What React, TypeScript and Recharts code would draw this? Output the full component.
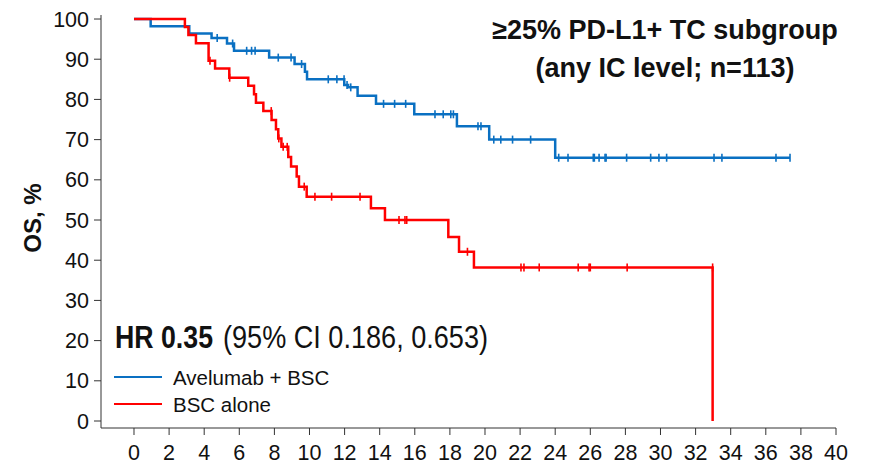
import React from 'react';
import { ComposedChart, Line, Scatter, XAxis, YAxis } from 'recharts';

// Kaplan-Meier steps: [month, OS %]
const blueSteps: [number, number][] = [
  [0, 100], [0.95, 98.2], [3.15, 96.4], [4.42, 95.3], [5.3, 93.9], [5.7, 92.1],
  [7.7, 90.4], [9.15, 88.8], [9.74, 86.9], [9.86, 85.0], [11.98, 83.6], [12.2, 83.0],
  [12.74, 80.9], [13.79, 78.9], [15.97, 76.3], [18.4, 73.3], [20.24, 70.0],
  [24.0, 65.5], [37.38, 65.5],
];
const blueCensored = [
  4.74, 5.62, 6.42, 6.7, 6.9, 8.22, 8.95, 9.55, 11.07, 11.56, 11.97, 12.14, 12.35,
  14.22, 14.85, 15.48, 17.15, 17.62, 18.05, 18.2, 19.6, 19.77, 20.5, 20.9, 21.57,
  22.6, 24.2, 24.73, 26.17, 26.23, 26.5, 26.84, 26.9, 28.07, 29.44, 29.91, 30.35,
  33.05, 33.5, 36.58, 37.38,
];

const redSteps: [number, number][] = [
  [0, 100], [2.9, 98.0], [3.1, 96.0], [3.53, 94.0], [4.25, 89.6], [4.62, 87.7],
  [5.43, 85.4], [6.51, 83.4], [6.84, 81.3], [6.95, 79.2], [7.37, 77.1], [7.84, 74.9],
  [8.09, 72.6], [8.22, 70.3], [8.4, 68.2], [8.79, 65.7], [8.95, 63.3], [9.27, 60.8],
  [9.4, 58.3], [9.84, 55.8], [13.5, 52.9], [14.3, 50.0], [17.91, 45.8], [18.52, 42.1],
  [19.37, 38.2], [32.97, 38.2], [32.97, 0],
];
const redCensored = [
  4.33, 5.45, 7.82, 8.25, 8.5, 8.73, 9.7, 10.31, 11.26, 12.88, 15.1, 15.44, 15.54,
  19.0, 22.05, 22.22, 23.09, 25.31, 25.93, 26.0, 28.1, 32.97,
];

const xTicks = [0, 2, 4, 6, 8, 10, 12, 14, 16, 18, 20, 22, 24, 26, 28, 30, 32, 34, 36, 38, 40];
const yTicks = [0, 10, 20, 30, 40, 50, 60, 70, 80, 90, 100];

const BLUE = '#0a70c2';
const RED = '#ff0000';
const FONT = '"Liberation Sans", Arial, sans-serif';

const toRows = (steps: [number, number][]) => steps.map(([t, s]) => ({ t, s }));

// survival level just before time t
const levelAt = (steps: [number, number][], t: number) => {
  let s = 100;
  for (const [time, v] of steps) {
    if (time < t) s = v;
  }
  return s;
};

const censorRows = (steps: [number, number][], times: number[]) =>
  times.map((t) => ({ t, s: levelAt(steps, t) }));

const tickMark = (color: string) => (props: any) => {
  const { cx, cy } = props;
  return <line x1={cx} x2={cx} y1={cy - 4} y2={cy + 4} stroke={color} strokeWidth={1.6} />;
};

export default function App() {
  const tickStyle = { fontSize: 21.5, fill: '#111', fontFamily: FONT };
  return (
    <div style={{ position: 'absolute', left: 0, top: 0, width: 872, height: 466, background: '#fff' }}>
      <ComposedChart width={872} height={466} margin={{ top: 15, right: 36, left: 0, bottom: 0 }}>
        <XAxis
          type="number"
          dataKey="t"
          domain={[-1.88, 40]}
          ticks={xTicks}
          allowDataOverflow
          height={38}
          tickSize={7}
          tickMargin={10}
          stroke="#333"
          tick={tickStyle}
          interval={0}
        />
        <YAxis
          type="number"
          domain={[-1.74, 101]}
          ticks={yTicks}
          allowDataOverflow
          width={101}
          tickSize={7}
          tickMargin={5}
          stroke="#333"
          tick={tickStyle}
          interval={0}
        />
        <Line
          data={toRows(blueSteps)}
          dataKey="s"
          type="stepAfter"
          stroke={BLUE}
          strokeWidth={2.5}
          dot={false}
          isAnimationActive={false}
        />
        <Line
          data={toRows(redSteps)}
          dataKey="s"
          type="stepAfter"
          stroke={RED}
          strokeWidth={2.5}
          dot={false}
          isAnimationActive={false}
        />
        <Scatter
          data={censorRows(blueSteps, blueCensored)}
          dataKey="s"
          shape={tickMark(BLUE)}
          isAnimationActive={false}
        />
        <Scatter
          data={censorRows(redSteps, redCensored)}
          dataKey="s"
          shape={tickMark(RED)}
          isAnimationActive={false}
        />
      </ComposedChart>
      <svg
        width={872}
        height={466}
        style={{ position: 'absolute', left: 0, top: 0, pointerEvents: 'none' }}
        fontFamily={FONT}
      >
        <text x={665} y={39} textAnchor="middle" fontSize={27} fontWeight="bold" fill="#111">
          ≥25% PD-L1+ TC subgroup
        </text>
        <text x={665} y={77} textAnchor="middle" fontSize={27} fontWeight="bold" fill="#111">
          (any IC level; n=113)
        </text>
        <text x={115} y={348} fontSize={31} fontWeight="bold" fill="#111" textLength={98} lengthAdjust="spacingAndGlyphs">
          HR 0.35
        </text>
        <text x={223} y={348} fontSize={31} fill="#111" textLength={265} lengthAdjust="spacingAndGlyphs">
          (95% CI 0.186, 0.653)
        </text>
        <line x1={114} x2={162} y1={377} y2={377} stroke={BLUE} strokeWidth={2} />
        <text x={173} y={385} fontSize={20.5} fill="#111">Avelumab + BSC</text>
        <line x1={114} x2={162} y1={404} y2={404} stroke={RED} strokeWidth={2} />
        <text x={173} y={412} fontSize={20.5} fill="#111">BSC alone</text>
        <text
          x={32}
          y={218}
          transform="rotate(-90 32 218)"
          textAnchor="middle"
          dominantBaseline="central"
          fontSize={24}
          fontWeight="bold"
          fill="#111"
        >
          OS, %
        </text>
      </svg>
    </div>
  );
}
